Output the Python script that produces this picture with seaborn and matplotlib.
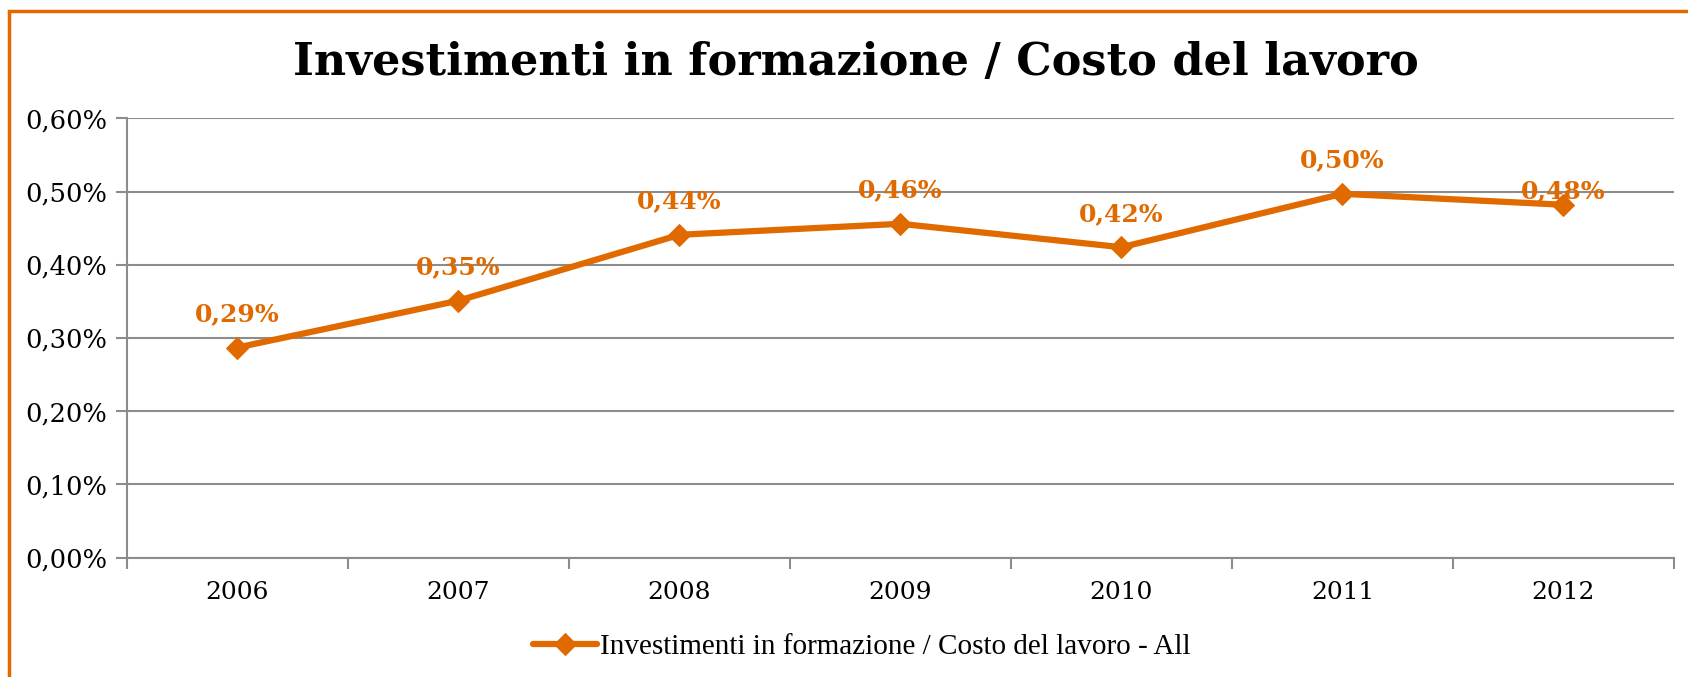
import matplotlib
matplotlib.use("Agg")
import matplotlib.pyplot as plt
import matplotlib.patches as patches
import seaborn as sns
import pandas as pd
from matplotlib.ticker import FuncFormatter

anni = ['2006', '2007', '2008', '2009', '2010', '2011', '2012']
valori = [0.287, 0.351, 0.441, 0.456, 0.424, 0.497, 0.482]
etichette = ['0,29%', '0,35%', '0,44%', '0,46%', '0,42%', '0,50%', '0,48%']
serie = 'Investimenti in formazione / Costo del lavoro - All'
titolo = 'Investimenti in formazione / Costo del lavoro'

arancio = '#E06A00'
grigio = '#8C8C8C'

sns.set_style("white")
plt.rcParams['font.family'] = ['DejaVu Serif']
serif_stretto = ['Liberation Serif', 'DejaVu Serif']

df = pd.DataFrame({'Anno': anni, 'Valore': valori})

fig = plt.figure(figsize=(16.88, 6.77), dpi=100)
ax = fig.add_axes([0.0752, 0.1764, 0.9165, 0.6487])

sns.lineplot(data=df, x='Anno', y='Valore', ax=ax, color=arancio, linewidth=4.5,
             marker='D', markersize=11, markeredgecolor=arancio, label=serie, zorder=3)

ax.set_xlim(-0.5, len(anni) - 0.5)
ax.set_ylim(0, 0.6)
ax.set_yticks([0, 0.1, 0.2, 0.3, 0.4, 0.5, 0.6])
ax.yaxis.set_major_formatter(FuncFormatter(lambda v, p: f'{v:.2f}%'.replace('.', ',')))
ax.grid(axis='y', color=grigio, linewidth=1.5)
ax.set_axisbelow(True)
ax.set_xlabel('')
ax.set_ylabel('')

for s in ['top', 'right']:
    ax.spines[s].set_visible(False)
for s in ['left', 'bottom']:
    ax.spines[s].set_color(grigio)
    ax.spines[s].set_linewidth(1.5)

ax.tick_params(axis='y', which='major', length=8, width=1.5, color=grigio,
               labelsize=18.5, pad=6, direction='out', left=True, labelcolor='black')
ax.tick_params(axis='x', which='major', length=0, labelsize=18, pad=17,
               labelcolor='black')
ax.set_xticks([i - 0.5 for i in range(len(anni) + 1)], minor=True)
ax.tick_params(axis='x', which='minor', length=8, width=1.5, color=grigio,
               direction='out', bottom=True)

for i, (v, t) in enumerate(zip(valori, etichette)):
    dy = 24 if i < len(anni) - 1 else 10
    ax.annotate(t, (i, v), xytext=(0, dy), textcoords='offset points',
                ha='center', va='center', color=arancio, fontsize=18,
                fontweight='bold', zorder=4)

fig.text(0.507, 0.907, titolo, ha='center', va='center', fontsize=32,
         fontweight='bold', color='black')

leg = ax.legend(loc='center', bbox_to_anchor=(0.475, -0.203), frameon=False,
                prop={'family': serif_stretto, 'size': 21}, handlelength=2.2,
                handletextpad=0.1, bbox_transform=ax.transAxes)
for t in leg.get_texts():
    t.set_color('black')

bordo = patches.Rectangle((9 / 1688, -0.05), 1.2, 1 - 11 / 677 + 0.05,
                          transform=fig.transFigure, fill=False,
                          edgecolor=arancio, linewidth=2.5, clip_on=False)
fig.patches.append(bordo)

fig.savefig('out.png', dpi=100, facecolor='white')
